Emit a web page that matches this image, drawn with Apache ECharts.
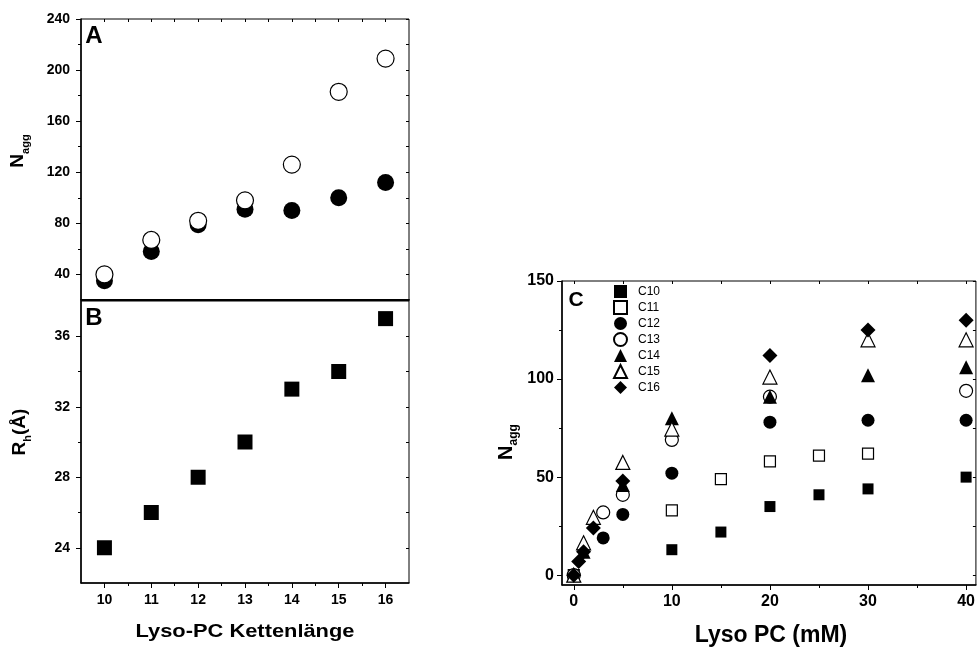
<!DOCTYPE html>
<html><head><meta charset="utf-8">
<script src="https://cdn.jsdelivr.net/npm/echarts@6/dist/echarts.min.js"></script>
<style>html,body{margin:0;padding:0;background:#fff}#c{width:978px;height:648px}</style>
</head><body><div id="c"></div><script>
// ---- data ----
const chainLength = [10, 11, 12, 13, 14, 15, 16];
const naggFilled = [35, 58, 79, 91, 90, 100, 112];
const naggOpen = [40, 67, 82, 98, 126, 183, 209];
const rhValues = [24, 26, 28, 30, 33, 34, 37];

const c10 = [[0,0],[10,13],[15,22],[20,35],[25,41],[30,44],[40,50]];
const c11 = [[0,0],[10,33],[15,49],[20,58],[25,61],[30,62]];
const c12 = [[0,0],[3,19],[5,31],[10,52],[20,78],[30,79],[40,79]];
const c13 = [[0,0],[3,32],[5,41],[10,69],[20,91],[40,94]];
const c14 = [[0,0],[1,12],[5,46],[10,80],[20,91],[30,102],[40,106]];
const c15 = [[0,0],[1,16.5],[2,29.5],[5,57.5],[10,74.5],[20,101],[30,120],[40,120]];
const c16 = [[0,0],[0.5,7],[1,12],[2,24],[5,48],[20,112],[30,125],[40,130]];
const cNames = ['C10','C11','C12','C13','C14','C15','C16'];

// tick labels / tick positions
const aYLabels = [40, 80, 120, 160, 200, 240];
const aYMinor = [60, 100, 140, 180, 220];
const bYLabels = [24, 28, 32, 36];
const bYMinor = [26, 30, 34];
const abXLabels = [10, 11, 12, 13, 14, 15, 16];
const abXMinor = [10.5, 11.5, 12.5, 13.5, 14.5, 15.5];
const cXLabels = [0, 10, 20, 30, 40];
const cXMinor = [5, 15, 25, 35];
const cYLabels = [0, 50, 100, 150];
const cYMinor = [25, 75, 125];

const F = "'Liberation Sans', Arial, sans-serif";
const allSorted = (a, b) => a.concat(b).sort((x, y) => x - y);

function ax(grid, pos, min, max, ticks, len, inside, labels, fontSize, margin, lineW) {
  return {
    type: 'value', gridIndex: grid, position: pos, min: min, max: max,
    axisLine: { show: !!lineW, onZero: false, lineStyle: { color: '#000', width: lineW || 1 } },
    splitLine: { show: false },
    axisTick: ticks ? { show: true, inside: inside, length: len, customValues: ticks,
      lineStyle: { color: '#000', width: 1 } } : { show: false },
    axisLabel: labels ? { show: true, customValues: labels, fontSize: fontSize, fontWeight: 'bold',
      color: '#000', fontFamily: F, margin: margin } : { show: false }
  };
}

const xAxes = [
  ax(0, 'bottom', 9.5, 16.5, null, 0, false, null, 0, 0, 2),                       // 0 A main
  ax(0, 'top', 9.5, 16.5, allSorted(abXLabels, abXMinor), 3, true, null, 0, 0, 0),  // 1 A top
  ax(1, 'bottom', 9.5, 16.5, abXLabels, 5, false, abXLabels, 14, 10, 1.5),           // 2 B main
  ax(1, 'bottom', 9.5, 16.5, abXMinor, 3, false, null, 0, 0, 0),                     // 3 B minor
  ax(2, 'bottom', -1.2, 41, cXLabels, 5, false, cXLabels, 16, 9, 1.5),               // 4 C main
  ax(2, 'bottom', -1.2, 41, cXMinor, 3, false, null, 0, 0, 0),                       // 5 C minor
  ax(2, 'top', -1.2, 41, allSorted(cXLabels, cXMinor), 3, true, null, 0, 0, 0)       // 6 C top
];
const yAxes = [
  ax(0, 'left', 20, 240, aYLabels, 5, false, aYLabels, 14, 11, 1.5),                 // 0 A main
  ax(0, 'left', 20, 240, aYMinor, 3, false, null, 0, 0, 0),                          // 1 A minor
  ax(0, 'right', 20, 240, allSorted(aYLabels, aYMinor), 3, true, null, 0, 0, 0),     // 2 A right
  ax(1, 'left', 22, 38, bYLabels, 5, false, bYLabels, 14, 11, 1.5),                  // 3 B main
  ax(1, 'left', 22, 38, bYMinor, 3, false, null, 0, 0, 0),                           // 4 B minor
  ax(1, 'right', 22, 38, allSorted(bYLabels, bYMinor), 3, true, null, 0, 0, 0),      // 5 B right
  ax(2, 'left', -5, 150, cYLabels, 5, false, cYLabels, 16, 8, 1.5),                  // 6 C main
  ax(2, 'left', -5, 150, cYMinor, 3, false, null, 0, 0, 0),                          // 7 C minor
  ax(2, 'right', -5, 150, allSorted(cYLabels, cYMinor), 3, true, null, 0, 0, 0)      // 8 C right
];

const BLACK = { color: '#000', opacity: 1 };
const OPEN = { color: '#fff', borderColor: '#000', borderWidth: 1.2, opacity: 1 };
const cData = [c10, c11, c12, c13, c14, c15, c16];
const cSym = ['rect', 'rect', 'circle', 'circle', 'triangle', 'triangle', 'diamond'];
const cSize = [11, 11, 13, 13, 14, 14, 15];
const cStyle = [BLACK, OPEN, BLACK, OPEN, BLACK, OPEN, BLACK];

const series = [
  { type: 'scatter', xAxisIndex: 0, yAxisIndex: 0, symbol: 'circle', symbolSize: 17,
    itemStyle: BLACK, data: chainLength.map((x, i) => [x, naggFilled[i]]) },
  { type: 'scatter', xAxisIndex: 0, yAxisIndex: 0, symbol: 'circle', symbolSize: 17,
    itemStyle: OPEN, data: chainLength.map((x, i) => [x, naggOpen[i]]) },
  { type: 'scatter', xAxisIndex: 2, yAxisIndex: 3, symbol: 'rect', symbolSize: 15,
    itemStyle: BLACK, data: chainLength.map((x, i) => [x, rhValues[i]]) }
];
cNames.forEach((n, i) => series.push({
  type: 'scatter', name: n, xAxisIndex: 4, yAxisIndex: 6, symbol: cSym[i], symbolSize: cSize[i],
  itemStyle: cStyle[i], data: cData[i]
}));

function label(x, y, text, rich, rot, extra) {
  return Object.assign({ type: 'text', x: x, y: y, rotation: rot || 0, silent: true,
    style: Object.assign({ text: text, fill: '#000', fontFamily: F, fontWeight: 'bold',
      align: 'center', verticalAlign: 'middle', rich: rich }, extra || {}) });
}
const subRich = (big, small) => ({
  n: { fontSize: big, fontWeight: 'bold', fontFamily: F, lineHeight: big, padding: [0, 0, 4, 0], verticalAlign: 'bottom' },
  s: { fontSize: small, fontWeight: 'bold', fontFamily: F, lineHeight: small, verticalAlign: 'bottom' }
});

const graphics = [
  label(22, 151, '{n|N}{s|agg}', subRich(19, 11), Math.PI / 2),
  label(24, 432, '{n|R}{s|h}{n|(Å)}', subRich(19, 11), Math.PI / 2),
  label(510, 442, '{n|N}{s|agg}', subRich(20, 12), Math.PI / 2),
  Object.assign(label(245, 632, 'Lyso-PC Kettenlänge', null, 0, { fontSize: 19 }), { scaleX: 1.15 }),
  label(771, 636, 'Lyso PC (mM)', null, 0, { fontSize: 23 }),
  label(94, 36, 'A', null, 0, { fontSize: 24 }),
  label(94, 318, 'B', null, 0, { fontSize: 24 }),
  label(576, 300, 'C', null, 0, { fontSize: 21 })
];

const chart = echarts.init(document.getElementById('c'), null, { renderer: 'canvas' });
chart.setOption({
  backgroundColor: '#fff',
  animation: false,
  textStyle: { fontFamily: F },
  grid: [
    { left: 81, top: 19, width: 328, height: 281, show: true, borderColor: '#000', borderWidth: 1, containLabel: false },
    { left: 81, top: 301, width: 328, height: 282, show: true, borderColor: '#000', borderWidth: 1, containLabel: false },
    { left: 562, top: 281, width: 415, height: 304, show: true, borderColor: '#000', borderWidth: 1, containLabel: false }
  ],
  xAxis: xAxes,
  yAxis: yAxes,
  legend: {
    data: cNames, orient: 'vertical', left: 613, top: 285, padding: 0,
    itemWidth: 13, itemHeight: 13, itemGap: 2,
    textStyle: { fontSize: 12, fontFamily: F, color: '#000', fontWeight: 'normal', padding: [0, 0, 0, 6] }
  },
  graphic: graphics,
  series: series
});
</script></body></html>
